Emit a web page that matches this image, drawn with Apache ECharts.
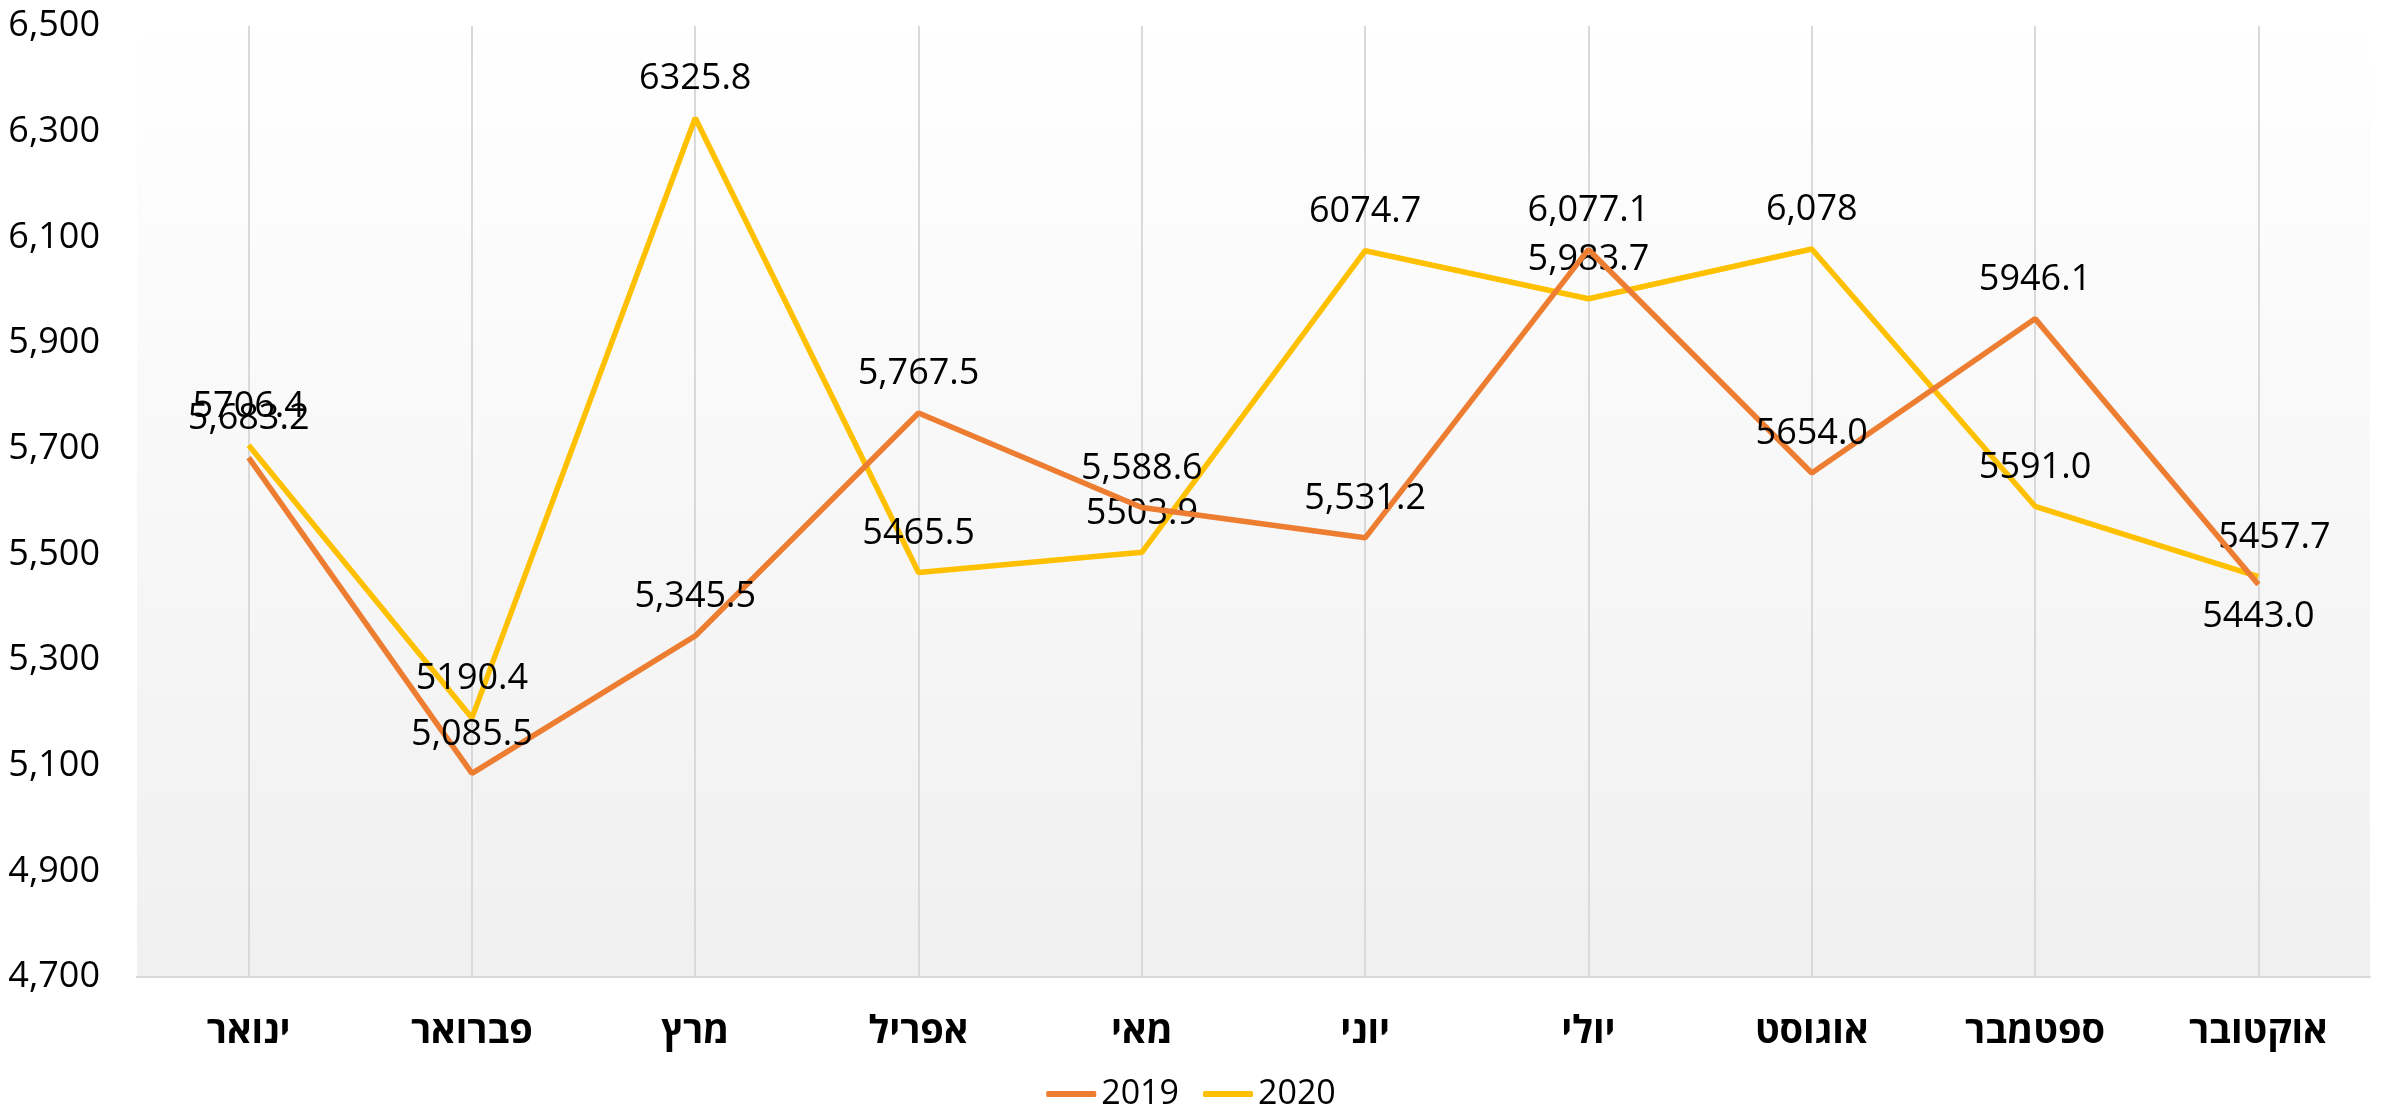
<!DOCTYPE html>
<html>
<head>
<meta charset="utf-8">
<script src="https://cdn.jsdelivr.net/npm/echarts@6/dist/echarts.min.js"></script>
<style>
html,body{margin:0;padding:0;background:#fff;}
#chart{width:2382px;height:1118px;}
</style>
</head>
<body>
<div id="chart"></div>
<script>
const categories = ['ינואר','פברואר','מרץ','אפריל','מאי','יוני','יולי','אוגוסט','ספטמבר','אוקטובר'];
const values2019 = [5683.2, 5085.5, 5345.5, 5767.5, 5588.6, 5531.2, 6077.1, 5654.0, 5946.1, 5443.0];
const values2020 = [5706.4, 5190.4, 6325.8, 5465.5, 5503.9, 6074.7, 5983.7, 6078.0, 5591.0, 5457.7];
const labels2019 = ['5,683.2','5,085.5','5,345.5','5,767.5','5,588.6','5,531.2','6,077.1','5654.0','5946.1','5443.0'];
const labels2020 = ['5706.4','5190.4','6325.8','5465.5','5503.9','6074.7','5,983.7','6,078','5591.0','5457.7'];
const labelBelow2019 = [false,false,false,false,false,false,false,false,false,true];
const seriesNames = ['2019','2020'];
const yTicks = {min: 4700, max: 6500, interval: 200};

const FONT = '"Liberation Sans Narrow", "Open Sans", sans-serif';
const chart = echarts.init(document.getElementById('chart'));

function buildData(vals, labels, below, shiftLast) {
  return vals.map((v, i) => {
    const d = {value: v, label: {formatter: labels[i]}};
    if (below && below[i]) { d.label.position = 'bottom'; d.label.distance = 14; }
    if (shiftLast && i === vals.length - 1) d.label.offset = [16, 0];
    return d;
  });
}

const labelStyle = {show: true, position: 'top', distance: 21, fontSize: 36, color: '#000', fontFamily: FONT};

chart.setOption({
  backgroundColor: '#ffffff',
  animation: false,
  grid: {
    left: 137, right: 12, top: 26, bottom: 141,
    show: true, borderWidth: 0,
    backgroundColor: {type: 'linear', x: 0, y: 0, x2: 0, y2: 1,
      colorStops: [{offset: 0, color: '#ffffff'}, {offset: 1, color: '#f0f0f0'}]}
  },
  legend: {
    bottom: 2, left: 'center',
    itemWidth: 50, itemHeight: 6, itemGap: 24,
    icon: 'roundRect',
    textStyle: {fontSize: 34, color: '#000', fontFamily: FONT},
    data: seriesNames
  },
  xAxis: {
    type: 'category', data: categories, boundaryGap: true,
    axisLine: {show: true, lineStyle: {color: '#d9d9d9', width: 2}},
    axisTick: {show: false},
    axisLabel: {fontSize: 38, fontWeight: 'bold', color: '#000', margin: 36, fontFamily: FONT},
    splitLine: {show: true, alignWithLabel: true, lineStyle: {color: '#d9d9d9', width: 2}}
  },
  yAxis: {
    type: 'value', min: yTicks.min, max: yTicks.max, interval: yTicks.interval,
    axisLine: {show: false}, axisTick: {show: false},
    splitLine: {show: false},
    axisLabel: {fontSize: 36, color: '#000', margin: 37, fontFamily: FONT,
      formatter: v => v.toLocaleString('en-US')}
  },
  series: [
    {name: seriesNames[0], type: 'line', data: buildData(values2019, labels2019, labelBelow2019, false),
      symbol: 'circle', symbolSize: 0, showSymbol: true,
      lineStyle: {color: '#ED7D31', width: 5.5}, itemStyle: {color: '#ED7D31'},
      label: labelStyle, z: 3},
    {name: seriesNames[1], type: 'line', data: buildData(values2020, labels2020, null, true),
      symbol: 'circle', symbolSize: 0, showSymbol: true,
      lineStyle: {color: '#FFC000', width: 5.5}, itemStyle: {color: '#FFC000'},
      label: labelStyle, z: 2}
  ]
});
</script>
</body>
</html>
